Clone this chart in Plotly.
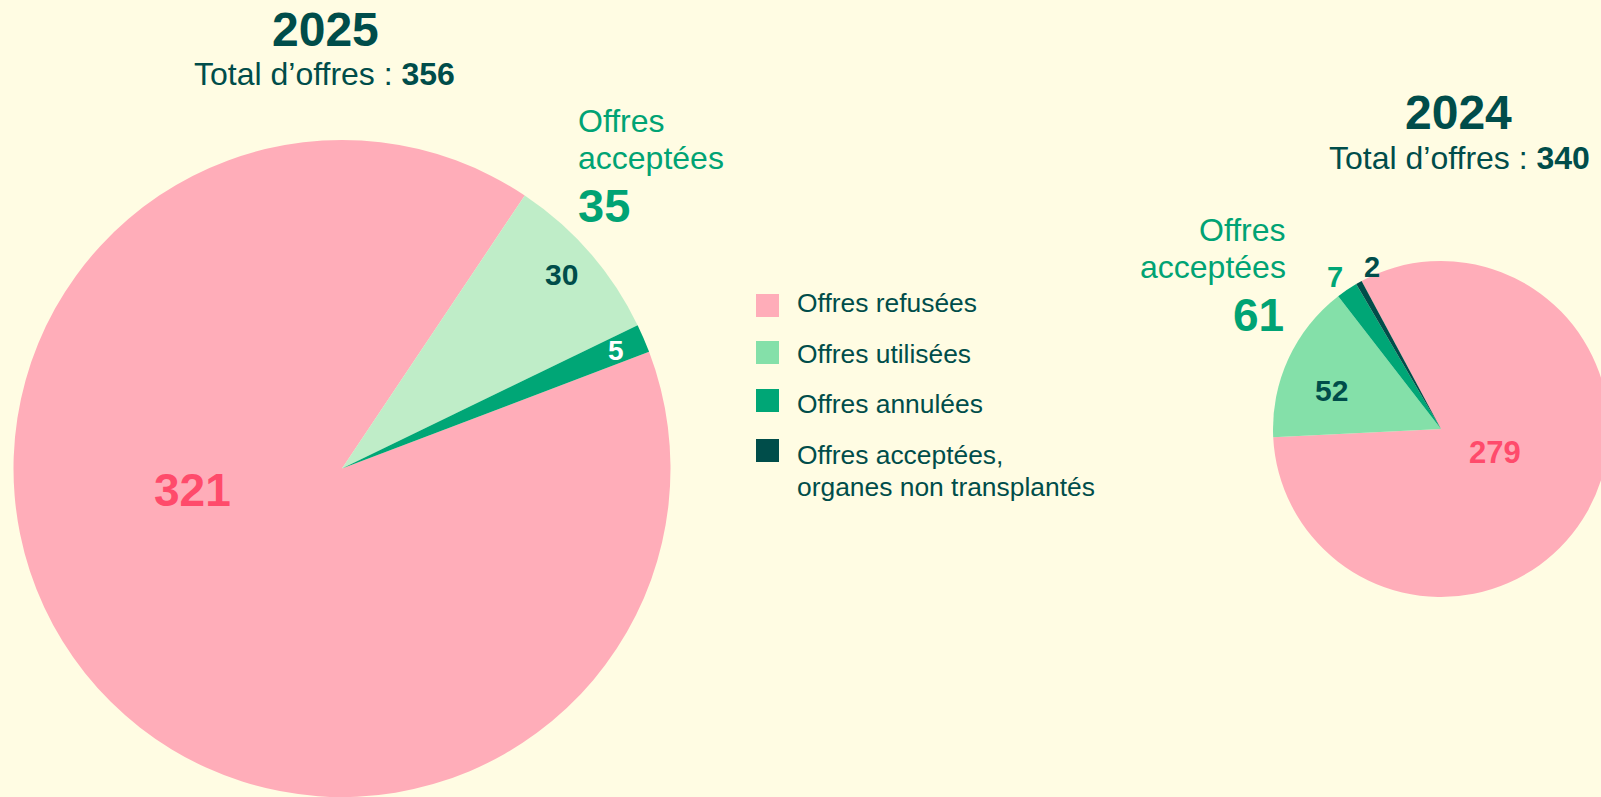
import plotly.graph_objects as go

# ---------------- data ----------------
categories = [
    "Offres refusées",
    "Offres utilisées",
    "Offres annulées",
    "Offres acceptées,<br>organes non transplantés",
]
values_2025 = [321, 30, 5, 0]
values_2024 = [279, 52, 7, 2]
year_labels = ["2025", "2024"]

colors_2025 = ["#FFADB9", "#BFEDC8", "#00A676", "#004D4A"]
colors_2024 = ["#FFADB9", "#84E0A9", "#00A676", "#004D4A"]
legend_colors = ["#FFADB9", "#84E0A9", "#00A676", "#004D4A"]

# ---------------- style ----------------
W, H = 1612, 797
BG = "#FFFCE3"
DARK = "#004D4A"
GREEN_TXT = "#00A374"
RED_TXT = "#FF4B6B"
FONT = "Liberation Sans, Arial, sans-serif"


def px(x):
    return x / W


def py(y):
    return 1 - y / H


fig = go.Figure()

fig.add_trace(go.Pie(
    values=values_2025, labels=categories,
    marker=dict(colors=colors_2025, line=dict(width=0)),
    sort=False, direction="clockwise", rotation=69.2,
    textinfo="none", hoverinfo="skip", showlegend=False,
    domain=dict(x=[px(13), px(671)], y=[0, py(140)]),
))
fig.add_trace(go.Pie(
    values=values_2024, labels=categories,
    marker=dict(colors=colors_2024, line=dict(width=0)),
    sort=False, direction="clockwise", rotation=-28.2,
    textinfo="none", hoverinfo="skip", showlegend=False,
    domain=dict(x=[px(1273), px(1609)], y=[py(597), py(261)]),
))

annotations = []


def ann(text, x, y, size, color, xanchor="center"):
    annotations.append(dict(
        text=text, x=px(x), y=py(y), xref="paper", yref="paper",
        xanchor=xanchor, yanchor="middle", showarrow=False,
        font=dict(family=FONT, size=size, color=color),
    ))


total_2025 = sum(values_2025)
total_2024 = sum(values_2024)
acc_2025 = sum(values_2025[1:])
acc_2024 = sum(values_2024[1:])

# 2025 titles
ann(f"<b>{year_labels[0]}</b>", 325, 30, 48, DARK)
ann(f"Total d’offres : <b>{total_2025}</b>", 324, 74, 32, DARK)
# 2025 accepted block
ann("Offres", 576, 121, 32, GREEN_TXT, "left")
ann("acceptées", 576, 158, 32, GREEN_TXT, "left")
ann(f"<b>{acc_2025}</b>", 576, 206, 47, GREEN_TXT, "left")
# 2025 slice values
ann(f"<b>{values_2025[0]}</b>", 192, 490, 46, RED_TXT)
ann(f"<b>{values_2025[1]}</b>", 561, 274, 30, DARK)
ann(f"<b>{values_2025[2]}</b>", 616, 350, 28, "#FFFFFF")

# 2024 titles
ann(f"<b>{year_labels[1]}</b>", 1458, 113, 48, DARK)
ann(f"Total d’offres : <b>{total_2024}</b>", 1459, 158, 32, DARK)
# 2024 accepted block
ann("Offres", 1288, 230, 32, GREEN_TXT, "right")
ann("acceptées", 1288, 267, 32, GREEN_TXT, "right")
ann(f"<b>{acc_2024}</b>", 1286, 315, 46, GREEN_TXT, "right")
# 2024 slice values
ann(f"<b>{values_2024[0]}</b>", 1495, 452, 31, RED_TXT)
ann(f"<b>{values_2024[1]}</b>", 1331, 390, 30, DARK)
ann(f"<b>{values_2024[2]}</b>", 1335, 277, 29, "#00A676")
ann(f"<b>{values_2024[3]}</b>", 1372, 267, 29, DARK)

# custom legend
shapes = []
leg_tops = [294, 341, 389, 439]
leg_text_y = [303, 354, 404, 455]
for cat, col, top, ty in zip(categories, legend_colors, leg_tops, leg_text_y):
    shapes.append(dict(
        type="rect", xref="paper", yref="paper",
        x0=px(756), x1=px(779), y0=py(top + 23), y1=py(top),
        fillcolor=col, line=dict(width=0),
    ))
    for k, line in enumerate(cat.split("<br>")):
        ann(line, 795, ty + 32 * k, 26.4, DARK, "left")

fig.update_layout(
    width=W, height=H,
    margin=dict(l=0, r=0, t=0, b=0),
    paper_bgcolor=BG, plot_bgcolor=BG,
    annotations=annotations, shapes=shapes,
    showlegend=False,
    font=dict(family=FONT),
)

fig.write_html(
    "out.html",
    config={"displayModeBar": False},
    post_script="document.body.style.margin='0';document.body.style.overflow='hidden';document.documentElement.style.overflow='hidden';",
)
